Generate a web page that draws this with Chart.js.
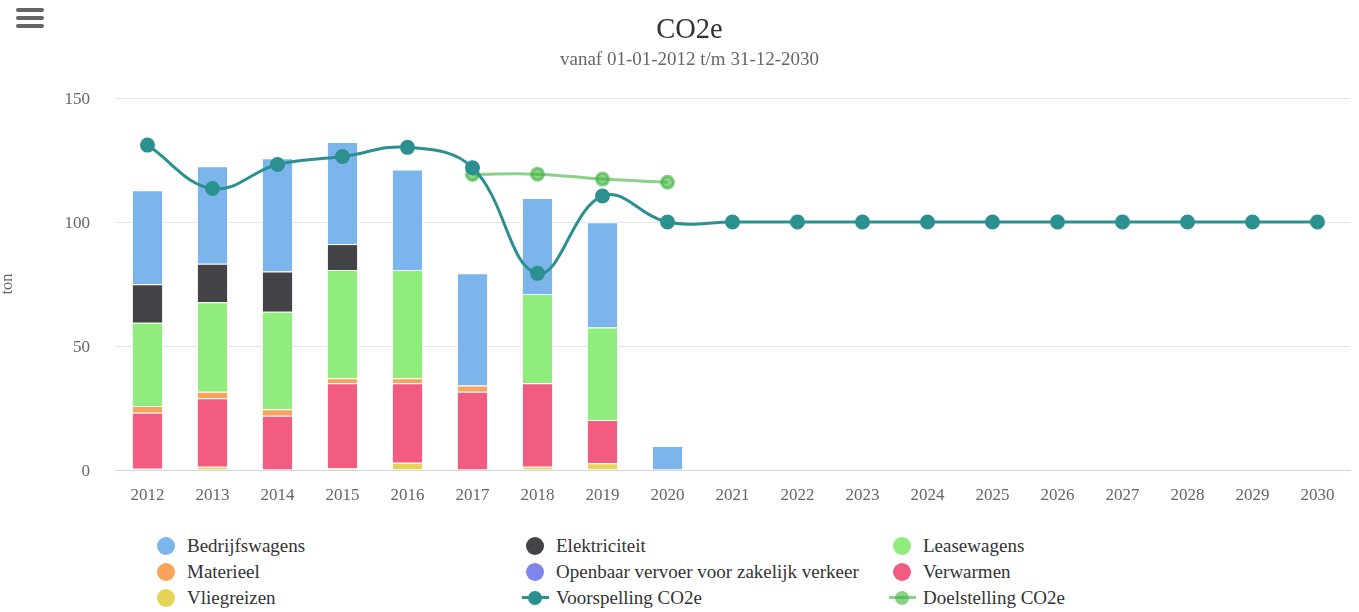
<!DOCTYPE html>
<html>
<head>
<meta charset="utf-8">
<script src="https://cdn.jsdelivr.net/npm/chart.js@4/dist/chart.umd.min.js"></script>
<style>
  body { margin: 0; background: #fff; font-family: "Liberation Serif", "Times New Roman", serif; }
  #wrap { position: relative; width: 1359px; height: 612px; overflow: hidden; }
  #menu { position: absolute; left: 16px; top: 8px; width: 28px; }
  #menu span { display: block; height: 4px; background: #666; border-radius: 2px; margin-bottom: 4px; }
  #legend { position: absolute; left: 0; top: 533px; width: 1359px; }
  .lg-item { position: absolute; height: 26px; line-height: 26px; font-size: 19px; color: #333; white-space: nowrap; }
  .lg-mark { position: absolute; top: 4px; }
  .lg-text { position: absolute; }
</style>
</head>
<body>
<div id="wrap">
  <canvas id="co2Chart" width="1359" height="520"></canvas>
  <div id="menu"><span></span><span></span><span></span></div>
  <div id="legend"></div>
</div>
<script>
const years = ["2012","2013","2014","2015","2016","2017","2018","2019","2020","2021","2022","2023","2024","2025","2026","2027","2028","2029","2030"];

// stacked emission parts (ton)
const bedrijfswagens = [37.9, 39.3, 45.7, 41.2, 40.6, 45.2, 38.7, 42.4, 9.7, 0, 0, 0, 0, 0, 0, 0, 0, 0, 0];
const elektriciteit  = [15.5, 15.6, 16.2, 10.5, 0, 0, 0, 0, 0, 0, 0, 0, 0, 0, 0, 0, 0, 0, 0];
const leasewagens    = [33.6, 36.0, 39.3, 43.6, 43.6, 0, 36.0, 37.3, 0, 0, 0, 0, 0, 0, 0, 0, 0, 0, 0];
const materieel      = [2.7, 2.7, 2.6, 2.0, 2.0, 2.5, 0, 0, 0, 0, 0, 0, 0, 0, 0, 0, 0, 0, 0];
const openbaarVervoer = [0, 0, 0, 0, 0, 0, 0, 0, 0, 0, 0, 0, 0, 0, 0, 0, 0, 0, 0];
const verwarmen      = [22.6, 27.6, 21.9, 34.2, 32.1, 31.4, 33.7, 17.5, 0, 0, 0, 0, 0, 0, 0, 0, 0, 0, 0];
const vliegreizen    = [0.5, 1.3, 0, 0.8, 2.9, 0.2, 1.3, 2.7, 0, 0, 0, 0, 0, 0, 0, 0, 0, 0, 0];

const voorspelling = [131.0, 113.5, 123.2, 126.4, 130.1, 121.9, 79.3, 110.5, 100, 100, 100, 100, 100, 100, 100, 100, 100, 100, 100];
const doelstelling = [null, null, null, null, null, 119.2, 119.3, 117.3, 116.0, null, null, null, null, null, null, null, null, null, null];

const yTicks = [0, 50, 100, 150];

const FONT = "'Liberation Serif', 'Times New Roman', serif";
const TEAL = "#2b908f";
const TARGET = "rgba(60,180,60,0.6)";
const PAD_LEFT = 29;   // shifts the title centre like the original

function barSet(label, data, color) {
  return { type: "bar", label, data, backgroundColor: color, borderColor: "#fff", borderWidth: 1, stack: "parts", categoryPercentage: 1, barPercentage: 0.48 };
}

// first dataset is drawn on top, bars stack from the first bar dataset upward
const datasets = [
  { type: "line", label: "Voorspelling CO2e", data: voorspelling, borderColor: TEAL, backgroundColor: TEAL, borderWidth: 3, pointRadius: 6, pointHoverRadius: 6, tension: 0.4, stack: "forecast" },
  { type: "line", label: "Doelstelling CO2e", data: doelstelling, borderColor: TARGET, backgroundColor: TARGET, borderWidth: 3, pointRadius: 6, pointHoverRadius: 6, tension: 0.4, stack: "target" },
  barSet("Vliegreizen", vliegreizen, "#e4d354"),
  barSet("Verwarmen", verwarmen, "#f15c80"),
  barSet("Openbaar vervoer voor zakelijk verkeer", openbaarVervoer, "#8085e9"),
  barSet("Materieel", materieel, "#f7a35c"),
  barSet("Leasewagens", leasewagens, "#90ed7d"),
  barSet("Elektriciteit", elektriciteit, "#434348"),
  barSet("Bedrijfswagens", bedrijfswagens, "#7cb5ec")
];

new Chart(document.getElementById("co2Chart").getContext("2d"), {
  data: { labels: years, datasets },
  options: {
    responsive: false, animation: false,
    layout: { padding: { left: PAD_LEFT, right: 9, top: 0, bottom: 0 } },
    plugins: {
      legend: { display: false },
      tooltip: { enabled: false },
      title: { display: true, text: "CO2e", color: "#333", font: { family: FONT, size: 28.5, weight: "normal" }, padding: { top: 13, bottom: 0 } },
      subtitle: { display: true, text: "vanaf 01-01-2012 t/m 31-12-2030", color: "#666", font: { family: FONT, size: 19 }, padding: { top: 1, bottom: 27 } }
    },
    scales: {
      x: {
        stacked: true,
        grid: { display: false, drawTicks: false },
        border: { display: true, color: "#ccd6eb", width: 1 },
        ticks: { color: "#666", font: { family: FONT, size: 17 }, padding: 15, maxRotation: 0, autoSkip: false },
        afterFit: s => { s.height = 50; }
      },
      y: {
        stacked: true, min: 0, max: 150,
        afterBuildTicks: s => { s.ticks = yTicks.map(v => ({ value: v })); },
        grid: { color: "#e6e6e6", drawTicks: false },
        border: { display: false },
        ticks: { color: "#666", font: { family: FONT, size: 17 }, padding: 25, labelOffset: 2 },
        title: { display: true, text: "ton", color: "#666", font: { family: FONT, size: 16.5 }, padding: { top: -31, bottom: 0 } },
        afterFit: s => { s.width = 115 - PAD_LEFT; }
      }
    }
  }
});

// html legend in three columns
const legendItems = [
  { label: "Bedrijfswagens", color: "#7cb5ec" },
  { label: "Elektriciteit", color: "#434348" },
  { label: "Leasewagens", color: "#90ed7d" },
  { label: "Materieel", color: "#f7a35c" },
  { label: "Openbaar vervoer voor zakelijk verkeer", color: "#8085e9" },
  { label: "Verwarmen", color: "#f15c80" },
  { label: "Vliegreizen", color: "#e4d354" },
  { label: "Voorspelling CO2e", color: TEAL, line: true },
  { label: "Doelstelling CO2e", color: TARGET, line: true }
];
const colX = [157, 526, 893];
const legend = document.getElementById("legend");
legend.innerHTML = legendItems.map((it, i) => {
  const x = colX[i % 3], y = Math.floor(i / 3) * 26;
  const mark = it.line
    ? `<div class="lg-mark" style="left:-4px;top:11px;width:27px;height:3px;background:${it.color}"></div>
       <div class="lg-mark" style="left:2px;top:6px;width:14px;height:14px;border-radius:50%;background:${it.color}"></div>`
    : `<div class="lg-mark" style="left:0;width:18px;height:18px;border-radius:50%;background:${it.color}"></div>`;
  return `<div class="lg-item" style="left:${x}px;top:${y}px">${mark}<span class="lg-text" style="left:30px">${it.label}</span></div>`;
}).join("");
</script>
</body>
</html>
